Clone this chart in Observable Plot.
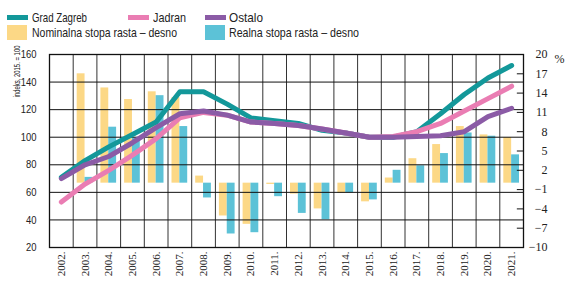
<!DOCTYPE html>
<html><head><meta charset="utf-8">
<script src="https://cdn.jsdelivr.net/npm/d3@7"></script>
<script src="https://cdn.jsdelivr.net/npm/@observablehq/plot@0.6"></script>
<style>
body{margin:0;background:#fff;}
#wrap{position:relative;width:571px;height:281px;font-family:"Liberation Sans",sans-serif;}
.leg{position:absolute;font-size:13px;color:#222;white-space:nowrap;line-height:14px;transform-origin:0 50%;}
.sw{position:absolute;}
#chart{position:absolute;left:0;top:0;}
</style></head><body><div id="wrap"><div id="chart"></div></div>
<script>
const years = [2002,2003,2004,2005,2006,2007,2008,2009,2010,2011,2012,2013,2014,2015,2016,2017,2018,2019,2020,2021];
const zagreb = [71,83,93,102,111,133,133,124,114,112,110,105,103,100,100,104,117,131,143,152];
const jadran = [53,66,76,87,99,114,118,116,111,110,108.5,106,103,100,100.5,104,110,119,128,137];
const ostalo = [70,80,86,96,107,117,119,116,111,110,108.5,106,103,100,100,100.5,101,104,115,121];
const nominalna = [null,17.0,14.8,13.0,14.2,13.3,1.1,-5.1,-6.4,-0.2,-1.7,-4.0,-1.6,-2.9,0.8,3.8,6.0,8.8,7.5,7.1];
const realna = [null,0.9,8.7,7.0,13.6,8.8,-2.3,-7.9,-7.7,-2.1,-4.7,-5.7,-1.5,-2.6,2.0,2.7,4.6,7.8,7.3,4.4];
const leftTicks = [20,40,60,80,100,120,140,160];
const rightTicks = [-10,-7,-4,-1,2,5,8,11,14,17,20];
const seriesNames = ["Grad Zagreb","Jadran","Ostalo"];
const barNames = ["Nominalna stopa rasta – desno","Realna stopa rasta – desno"];
const yLabel = "indeks, 2015. = 100";

const colors = {"Grad Zagreb":"#13989a","Jadran":"#ea7db3","Ostalo":"#8b5ba6"};
const barColors = ["#fcd886","#5cc2d7"];

const L0 = leftTicks[0], L1 = leftTicks[leftTicks.length-1];
const R0 = rightTicks[0], R1 = rightTicks[rightTicks.length-1];
const toLeft = r => L0 + (r - R0) * (L1 - L0) / (R1 - R0);
const toRight = l => R0 + (l - L0) * (R1 - R0) / (L1 - L0);

const lineData = [];
[zagreb, jadran, ostalo].forEach((arr, k) => arr.forEach((v, i) => lineData.push({series: seriesNames[k], year: years[i], value: v})));
const barN = years.map((y, i) => ({year: y, v: nominalna[i]})).filter(d => d.v != null);
const barR = years.map((y, i) => ({year: y, v: realna[i]})).filter(d => d.v != null);
const xMin = years[0] - 0.5, xMax = years[years.length-1] + 0.5;
const bounds = [xMin, ...years.map(y => y + 0.5)];

const plot = Plot.plot({
  width: 571, height: 281,
  marginTop: 54, marginBottom: 34, marginLeft: 49, marginRight: 48,
  style: {fontFamily: "Liberation Sans, sans-serif", background: "transparent", color: "#222"},
  x: {domain: [xMin, xMax]},
  y: {domain: [L0, L1]},
  marks: [
    Plot.rectY(barN, {x1: d => d.year - 0.5, x2: d => d.year, y1: toLeft(0), y2: d => toLeft(d.v), fill: barColors[0], insetLeft: 4}),
    Plot.rectY(barR, {x1: d => d.year, x2: d => d.year + 0.5, y1: toLeft(0), y2: d => toLeft(d.v), fill: barColors[1], insetRight: 4}),
    Plot.ruleX(bounds, {stroke: "#333", strokeWidth: 1}),
    Plot.ruleY(leftTicks, {stroke: "#111", strokeWidth: 1}),
    Plot.ruleY(rightTicks.map(toLeft), {x1: xMax - 0.26, x2: xMax, stroke: "#111", strokeWidth: 1}),
    Plot.frame({stroke: "#111", strokeWidth: 1.3}),
    Plot.line(lineData, {x: "year", y: "value", z: "series", stroke: d => colors[d.series], strokeWidth: 5, strokeLinejoin: "round", strokeLinecap: "round"}),
    Plot.axisY({anchor: "left", ticks: leftTicks, tickSize: 0, tickPadding: 13, fontSize: 11.5, label: null, className: "lefttick"}),
    Plot.axisY({anchor: "right", ticks: rightTicks.map(toLeft), tickFormat: d => { const v = Math.round(toRight(d)); return v < 0 ? "\u2212" + (-v) : String(v); }, tickSize: 0, tickPadding: 0, dx: 24, textAnchor: "end", fontSize: 12, fontFamily: "Liberation Serif, serif", label: null}),
    Plot.text(["%"], {frameAnchor: "top-right", dx: 41, fontSize: 12, fontFamily: "Liberation Serif, serif", fill: "#222"}),
    Plot.axisX({ticks: years, tickFormat: d => d + ".", tickRotate: -90, tickSize: 0, tickPadding: 4, fontSize: 11, fontFamily: "Liberation Serif, serif", label: null}),
    Plot.text([yLabel], {frameAnchor: "top-left", rotate: -90, dx: -36, dy: 17, fontSize: 9, textAnchor: "middle", fill: "#222", className: "ylab"})
  ]
});
document.getElementById("chart").appendChild(plot);
// condense the y label to its width in the reference
plot.querySelectorAll(".ylab text").forEach(t => { t.setAttribute("textLength", 52); t.setAttribute("lengthAdjust", "spacingAndGlyphs"); });
plot.querySelectorAll(".lefttick text").forEach(t => { const w = t.getComputedTextLength(); t.setAttribute("textLength", w * 0.82); t.setAttribute("lengthAdjust", "spacingAndGlyphs"); });

const wrap = document.getElementById("wrap");
function addSwatch(left, top, w, h, color){const s=document.createElement("div");s.className="sw";s.style.cssText=`left:${left}px;top:${top}px;width:${w}px;height:${h}px;background:${color}`;wrap.appendChild(s);}
function addText(left, top, t, targetW){const s=document.createElement("div");s.className="leg";s.style.left=left+"px";s.style.top=top+"px";s.textContent=t;wrap.appendChild(s);const w=s.getBoundingClientRect().width;s.style.transform=`scaleX(${targetW/w})`;}
const legendX = [7, 128, 205];
const textX = [32, 153, 229];
const textW = [55, 33, 34];
const barTextW = [145, 130];
seriesNames.forEach((n, i) => { addSwatch(legendX[i], 15, 21, 5, colors[n]); addText(textX[i], 11, n, textW[i]); });
[0, 2].forEach((p, i) => { addSwatch(legendX[p], 25, 20, 15, barColors[i]); addText(textX[p], 26, barNames[i], barTextW[i]); });
</script></body></html>
